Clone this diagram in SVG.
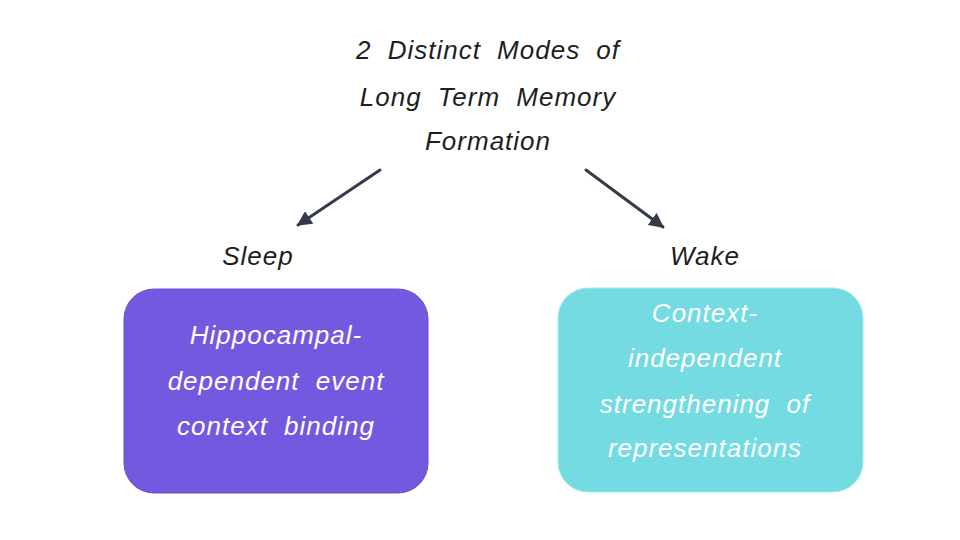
<svg xmlns="http://www.w3.org/2000/svg" width="960" height="540" viewBox="0 0 960 540">
<style>
text{font-family:"Liberation Sans","DejaVu Sans",sans-serif;font-style:italic;font-size:26px;text-anchor:middle;dominant-baseline:central;letter-spacing:1px;word-spacing:8px}
.dark{fill:#1e1e1e}
.light{fill:#ffffff}
.conn{stroke:#343a4a;stroke-width:3;fill:none;stroke-linecap:round}
</style>
<defs>
<marker id="ah" viewBox="0 0 10 10" refX="9" refY="5" markerWidth="5" markerHeight="5" orient="auto" markerUnits="strokeWidth">
<path d="M0,0 L10,5 L0,10 Z" fill="#343a4a"/>
</marker>
</defs>
<rect width="960" height="540" fill="#ffffff"/>
<g id="title">
<text class="dark" x="488" y="50">2 Distinct Modes of</text>
<text class="dark" x="488" y="97">Long Term Memory</text>
<text class="dark" x="488" y="141">Formation</text>
</g>
<g id="connectors">
<line class="conn" x1="380" y1="170" x2="298" y2="225" marker-end="url(#ah)"/>
<line class="conn" x1="586" y1="170" x2="663" y2="227" marker-end="url(#ah)"/>
</g>
<g id="sleep-label"><text class="dark" x="258" y="256">Sleep</text></g>
<g id="wake-label"><text class="dark" x="705" y="256">Wake</text></g>
<g id="sleep-box">
<rect x="124" y="289" width="304" height="204" rx="30" fill="#7459e0" stroke="#6a50c8" stroke-width="1"/>
<text class="light" x="276" y="335">Hippocampal-</text>
<text class="light" x="276" y="381">dependent event</text>
<text class="light" x="276" y="426">context binding</text>
</g>
<g id="wake-box">
<rect x="558" y="288" width="305" height="204" rx="30" fill="#74dbe3" stroke="#a6e9ee" stroke-width="1"/>
<text class="light" x="705" y="313">Context-</text>
<text class="light" x="705" y="358">independent</text>
<text class="light" x="705" y="404">strengthening of</text>
<text class="light" x="705" y="448">representations</text>
</g>
</svg>
